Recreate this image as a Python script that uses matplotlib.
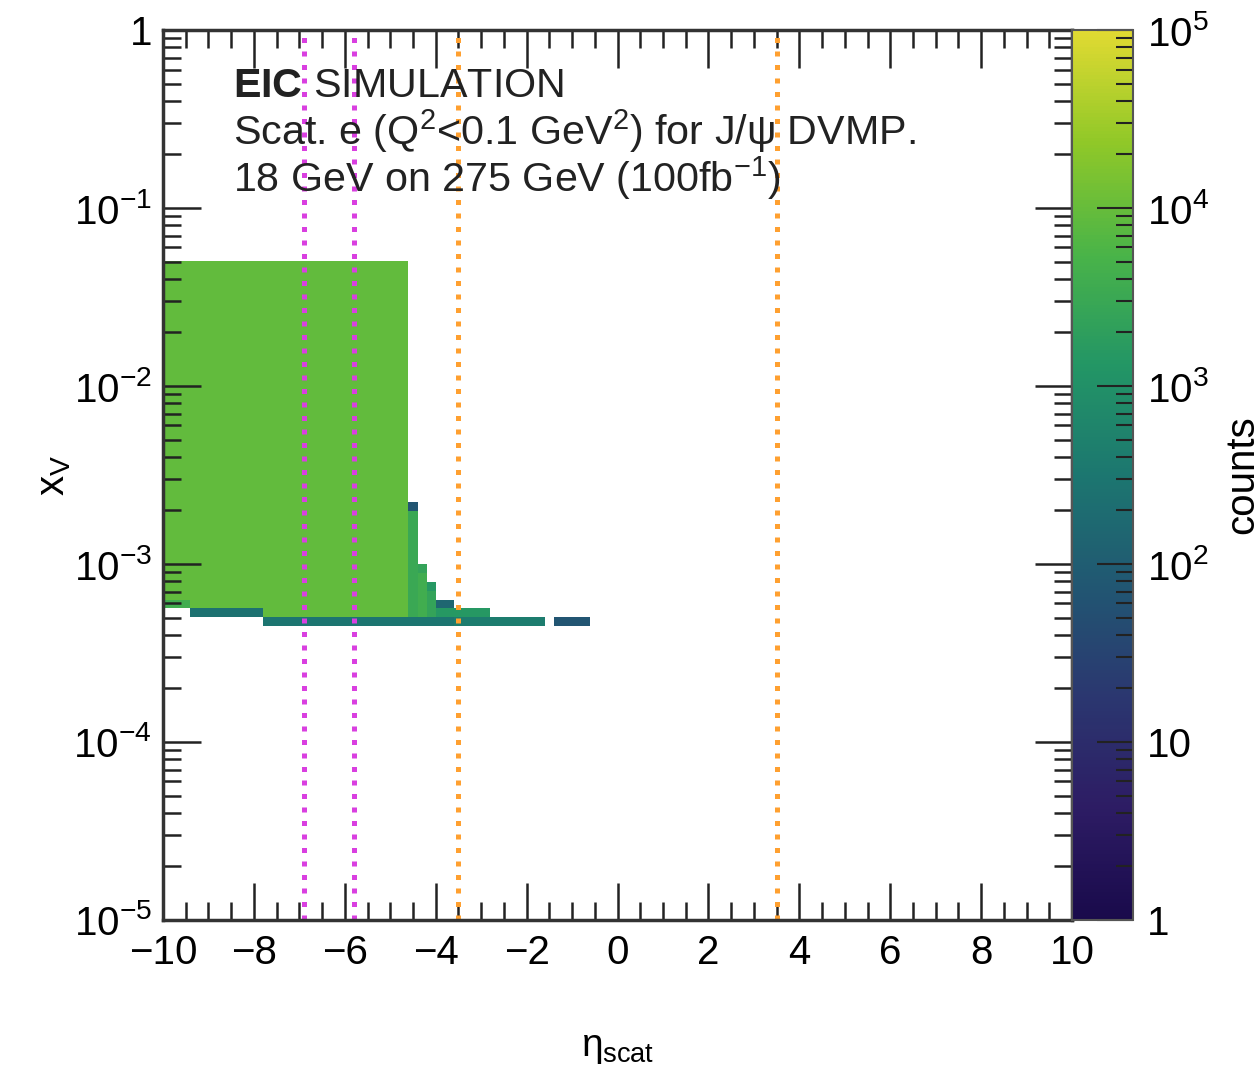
import matplotlib
matplotlib.use("Agg")
import matplotlib.pyplot as plt
import numpy as np
from matplotlib.colors import LogNorm, LinearSegmentedColormap
from matplotlib.ticker import LogLocator, MultipleLocator, FixedLocator, FuncFormatter

plt.rcParams['font.family'] = ['Liberation Sans', 'DejaVu Sans']
plt.rcParams['mathtext.fontset'] = 'custom'
plt.rcParams['mathtext.rm'] = 'Liberation Sans'
plt.rcParams['mathtext.it'] = 'Liberation Sans'
plt.rcParams['mathtext.bf'] = 'Liberation Sans:bold'

# histogram binning (eta_scat, log10 x_V)
eta_edges = np.linspace(-10, 10, 101)
logx_edges = np.linspace(-5, 0, 101)

# filled regions of the 2D histogram, one entry per eta segment
seg_eta_lo = [-10.0, -9.4, -7.8, -4.6, -4.4, -4.2, -4.0, -3.6, -2.8, -1.4]
seg_eta_hi = [-9.4, -7.8, -4.6, -4.4, -4.2, -4.0, -3.6, -2.8, -1.6, -0.6]
seg_logx_top = [-1.3, -1.3, -1.3, -2.65, -3.0, -3.1, -3.2, -3.25, -3.3, -3.3]
seg_logx_bot = [-3.25, -3.30, -3.35, -3.35, -3.35, -3.35, -3.35, -3.35, -3.35, -3.35]
seg_body = [9000, 9000, 9000, 3000, 4000, 2500, 1500, 3000, 1000, 70]
seg_top = [9000, 9000, 9000, 70, 2500, 1500, 150, 1500, 600, 70]
seg_bottom = [4000, 250, 300, 300, 300, 300, 300, 400, 400, 70]

# detector acceptance lines
magenta_eta = [-6.9, -5.8]
orange_eta = [-3.5, 3.5]

# ROOT-like viridis palette stops (ends softened to match the picture)
pal_r = [25, 45, 43, 33, 28, 35, 74, 144, 225]
pal_g = [10, 28, 55, 87, 118, 150, 180, 200, 218]
pal_b = [75, 100, 112, 114, 112, 101, 72, 40, 50]


def idx(edges, v):
    return int(round((v - edges[0]) / (edges[1] - edges[0])))


def build_hist():
    h = np.zeros((len(logx_edges) - 1, len(eta_edges) - 1))
    for k in range(len(seg_eta_lo)):
        i0, i1 = idx(eta_edges, seg_eta_lo[k]), idx(eta_edges, seg_eta_hi[k])
        j0, j1 = idx(logx_edges, seg_logx_bot[k]), idx(logx_edges, seg_logx_top[k])
        h[j0:j1, i0:i1] = seg_body[k]
        h[j1 - 1, i0:i1] = seg_top[k]
        h[j0, i0:i1] = seg_bottom[k]
    return np.ma.masked_where(h <= 0, h)


def pow_label(v, _):
    e = int(round(np.log10(v)))
    if e == 0:
        return "1"
    if e == 1:
        return "10"
    return r"$10^{%d}$" % e


def main():
    colors = [(r / 255, g / 255, b / 255) for r, g, b in zip(pal_r, pal_g, pal_b)]
    cmap = LinearSegmentedColormap.from_list("root_viridis", colors, N=256)

    fig = plt.figure(figsize=(12.59, 10.72), dpi=100)
    ax = fig.add_axes([0.1295, 0.1418, 0.722, 0.8302])
    cax = fig.add_axes([0.8515, 0.1418, 0.0485, 0.8302])

    h = build_hist()
    mesh = ax.pcolormesh(eta_edges, 10 ** logx_edges, h, cmap=cmap,
                         norm=LogNorm(vmin=1, vmax=1e5), shading='flat')

    for e in magenta_eta:
        ax.axvline(e, color='#d93fe0', lw=3.6, ls=(0, (1, 1.7)))
    for e in orange_eta:
        ax.axvline(e, color='#ffa030', lw=3.6, ls=(0, (1, 1.7)))

    ax.set_xlim(-10, 10)
    ax.set_yscale('log')
    ax.set_ylim(1e-5, 1)

    ax.xaxis.set_major_locator(MultipleLocator(2))
    ax.xaxis.set_minor_locator(MultipleLocator(0.5))
    ax.yaxis.set_major_locator(LogLocator(base=10, numticks=10))
    ax.yaxis.set_minor_locator(LogLocator(base=10, subs=np.arange(2, 10), numticks=10))
    ax.yaxis.set_major_formatter(FuncFormatter(pow_label))
    ax.xaxis.set_major_formatter(FuncFormatter(lambda v, _: "%d" % v if v >= 0 else "\u2212%d" % -v))

    ax.tick_params(which='both', direction='in', top=True, right=True,
                   labelsize=29, width=1.8, color='#222222')
    ax.tick_params(which='major', length=27)
    ax.tick_params(which='minor', length=13)
    ax.tick_params(axis='x', which='major', pad=10)
    ax.tick_params(axis='y', which='major', pad=8)
    for s in ax.spines.values():
        s.set_linewidth(2.5)
        s.set_color('#333333')

    ax.set_xlabel(r"$\eta_{\mathrm{scat}}$", fontsize=28, labelpad=42)
    ax.set_ylabel(r"x$_{\mathrm{V}}$", fontsize=29)
    ax.yaxis.set_label_coords(-0.099, 0.5)

    ax.text(0.077, 0.925, r"$\mathbf{EIC}$ SIMULATION", transform=ax.transAxes,
            fontsize=29.7, color='#222222', va='baseline')
    ax.text(0.077, 0.871, r"Scat. e (Q$^{2}$<0.1 GeV$^{2}$) for J/$\psi$ DVMP.",
            transform=ax.transAxes, fontsize=29.7, color='#222222', va='baseline')
    ax.text(0.077, 0.818, r"18 GeV on 275 GeV (100fb$^{-1}$)", transform=ax.transAxes,
            fontsize=29.7, color='#222222', va='baseline')

    cb = fig.colorbar(mesh, cax=cax)
    cb.outline.set_linewidth(1.5)
    cb.outline.set_edgecolor('#555555')
    cax.yaxis.set_major_locator(FixedLocator([1, 10, 100, 1e3, 1e4, 1e5]))
    cax.yaxis.set_minor_locator(LogLocator(base=10, subs=np.arange(2, 10), numticks=10))
    cax.yaxis.set_major_formatter(FuncFormatter(pow_label))
    cax.tick_params(which='both', direction='in', right=True, left=False,
                    labelsize=29, width=1.5, color='#222222')
    cax.tick_params(which='major', length=26, pad=10)
    cax.tick_params(which='minor', length=12)
    cb.set_label("counts", fontsize=29)
    cax.yaxis.set_label_coords(2.48, 0.5)

    fig.savefig("out.png", dpi=100)


if __name__ == "__main__":
    main()
